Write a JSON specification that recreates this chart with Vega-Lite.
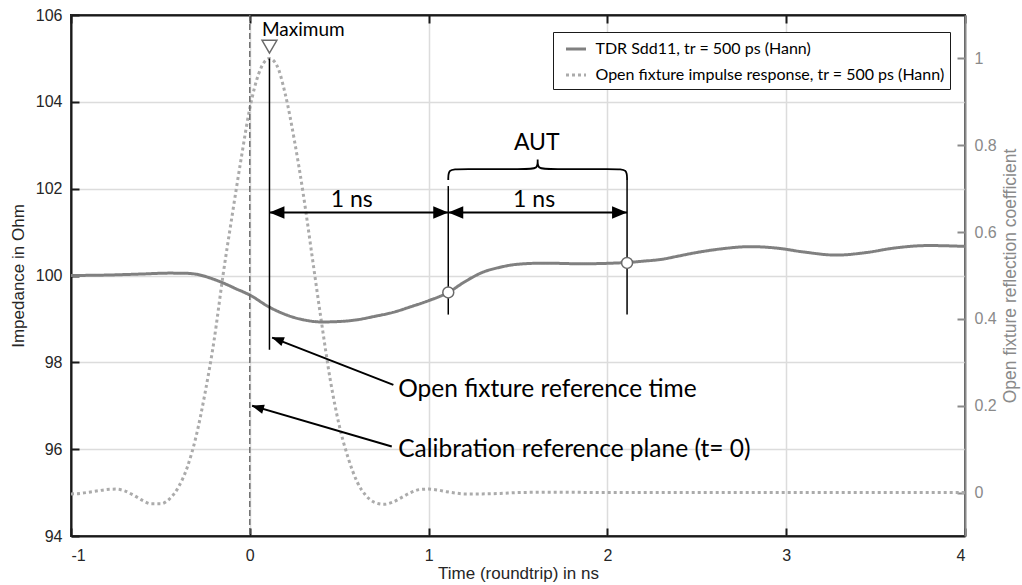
{
  "$schema": "https://vega.github.io/schema/vega-lite/v6.json",
  "width": 894,
  "height": 521,
  "autosize": {"type": "none"},
  "padding": {"left": 71, "top": 15, "right": 57, "bottom": 49},
  "background": "white",
  "config": {
    "font": "Liberation Sans",
    "view": {"stroke": "#1a1a1a", "strokeWidth": 2},
    "axis": {
      "labelFont": "Liberation Sans",
      "titleFont": "Liberation Sans",
      "titleFontWeight": "normal",
      "labelFontSize": 16,
      "titleFontSize": 17,
      "labelColor": "#262626",
      "titleColor": "#262626",
      "gridColor": "#dcdcdc",
      "gridWidth": 1.5,
      "domainColor": "#1a1a1a",
      "domainWidth": 2,
      "tickColor": "#1a1a1a",
      "tickWidth": 2,
      "tickSize": -8
    }
  },
  "datasets": {
    "tdr": [
      {"t": -1.0, "y": 100.0, "s": "TDR Sdd11, tr = 500 ps (Hann)"},
      {"t": -0.8, "y": 100.01, "s": "TDR Sdd11, tr = 500 ps (Hann)"},
      {"t": -0.6, "y": 100.035, "s": "TDR Sdd11, tr = 500 ps (Hann)"},
      {"t": -0.45, "y": 100.055, "s": "TDR Sdd11, tr = 500 ps (Hann)"},
      {"t": -0.35, "y": 100.05, "s": "TDR Sdd11, tr = 500 ps (Hann)"},
      {"t": -0.3, "y": 100.03, "s": "TDR Sdd11, tr = 500 ps (Hann)"},
      {"t": -0.22, "y": 99.94, "s": "TDR Sdd11, tr = 500 ps (Hann)"},
      {"t": -0.15, "y": 99.83, "s": "TDR Sdd11, tr = 500 ps (Hann)"},
      {"t": -0.08, "y": 99.7, "s": "TDR Sdd11, tr = 500 ps (Hann)"},
      {"t": 0.0, "y": 99.55, "s": "TDR Sdd11, tr = 500 ps (Hann)"},
      {"t": 0.11, "y": 99.27, "s": "TDR Sdd11, tr = 500 ps (Hann)"},
      {"t": 0.2, "y": 99.1, "s": "TDR Sdd11, tr = 500 ps (Hann)"},
      {"t": 0.25, "y": 99.03, "s": "TDR Sdd11, tr = 500 ps (Hann)"},
      {"t": 0.3, "y": 98.98, "s": "TDR Sdd11, tr = 500 ps (Hann)"},
      {"t": 0.4, "y": 98.93, "s": "TDR Sdd11, tr = 500 ps (Hann)"},
      {"t": 0.5, "y": 98.94, "s": "TDR Sdd11, tr = 500 ps (Hann)"},
      {"t": 0.6, "y": 98.98, "s": "TDR Sdd11, tr = 500 ps (Hann)"},
      {"t": 0.7, "y": 99.06, "s": "TDR Sdd11, tr = 500 ps (Hann)"},
      {"t": 0.8, "y": 99.15, "s": "TDR Sdd11, tr = 500 ps (Hann)"},
      {"t": 0.9, "y": 99.28, "s": "TDR Sdd11, tr = 500 ps (Hann)"},
      {"t": 1.0, "y": 99.42, "s": "TDR Sdd11, tr = 500 ps (Hann)"},
      {"t": 1.11, "y": 99.61, "s": "TDR Sdd11, tr = 500 ps (Hann)"},
      {"t": 1.2, "y": 99.85, "s": "TDR Sdd11, tr = 500 ps (Hann)"},
      {"t": 1.3, "y": 100.07, "s": "TDR Sdd11, tr = 500 ps (Hann)"},
      {"t": 1.4, "y": 100.19, "s": "TDR Sdd11, tr = 500 ps (Hann)"},
      {"t": 1.5, "y": 100.26, "s": "TDR Sdd11, tr = 500 ps (Hann)"},
      {"t": 1.65, "y": 100.285, "s": "TDR Sdd11, tr = 500 ps (Hann)"},
      {"t": 1.85, "y": 100.27, "s": "TDR Sdd11, tr = 500 ps (Hann)"},
      {"t": 2.0, "y": 100.28, "s": "TDR Sdd11, tr = 500 ps (Hann)"},
      {"t": 2.11, "y": 100.3, "s": "TDR Sdd11, tr = 500 ps (Hann)"},
      {"t": 2.2, "y": 100.33, "s": "TDR Sdd11, tr = 500 ps (Hann)"},
      {"t": 2.3, "y": 100.37, "s": "TDR Sdd11, tr = 500 ps (Hann)"},
      {"t": 2.4, "y": 100.45, "s": "TDR Sdd11, tr = 500 ps (Hann)"},
      {"t": 2.5, "y": 100.53, "s": "TDR Sdd11, tr = 500 ps (Hann)"},
      {"t": 2.65, "y": 100.62, "s": "TDR Sdd11, tr = 500 ps (Hann)"},
      {"t": 2.8, "y": 100.665, "s": "TDR Sdd11, tr = 500 ps (Hann)"},
      {"t": 2.95, "y": 100.63, "s": "TDR Sdd11, tr = 500 ps (Hann)"},
      {"t": 3.1, "y": 100.54, "s": "TDR Sdd11, tr = 500 ps (Hann)"},
      {"t": 3.28, "y": 100.47, "s": "TDR Sdd11, tr = 500 ps (Hann)"},
      {"t": 3.45, "y": 100.53, "s": "TDR Sdd11, tr = 500 ps (Hann)"},
      {"t": 3.6, "y": 100.63, "s": "TDR Sdd11, tr = 500 ps (Hann)"},
      {"t": 3.8, "y": 100.69, "s": "TDR Sdd11, tr = 500 ps (Hann)"},
      {"t": 4.0, "y": 100.67, "s": "TDR Sdd11, tr = 500 ps (Hann)"}
    ],
    "imp": [
      {"t": -1.0, "v": -0.003, "s": "Open fixture impulse response, tr = 500 ps (Hann)"},
      {"t": -0.95, "v": -0.002, "s": "Open fixture impulse response, tr = 500 ps (Hann)"},
      {"t": -0.9, "v": 0.001, "s": "Open fixture impulse response, tr = 500 ps (Hann)"},
      {"t": -0.85, "v": 0.004, "s": "Open fixture impulse response, tr = 500 ps (Hann)"},
      {"t": -0.8, "v": 0.007, "s": "Open fixture impulse response, tr = 500 ps (Hann)"},
      {"t": -0.75, "v": 0.008, "s": "Open fixture impulse response, tr = 500 ps (Hann)"},
      {"t": -0.7, "v": 0.004, "s": "Open fixture impulse response, tr = 500 ps (Hann)"},
      {"t": -0.65, "v": -0.006, "s": "Open fixture impulse response, tr = 500 ps (Hann)"},
      {"t": -0.6, "v": -0.018, "s": "Open fixture impulse response, tr = 500 ps (Hann)"},
      {"t": -0.55, "v": -0.026, "s": "Open fixture impulse response, tr = 500 ps (Hann)"},
      {"t": -0.5, "v": -0.026, "s": "Open fixture impulse response, tr = 500 ps (Hann)"},
      {"t": -0.45, "v": -0.015, "s": "Open fixture impulse response, tr = 500 ps (Hann)"},
      {"t": -0.4, "v": 0.012, "s": "Open fixture impulse response, tr = 500 ps (Hann)"},
      {"t": -0.35, "v": 0.058, "s": "Open fixture impulse response, tr = 500 ps (Hann)"},
      {"t": -0.3, "v": 0.13, "s": "Open fixture impulse response, tr = 500 ps (Hann)"},
      {"t": -0.25, "v": 0.23, "s": "Open fixture impulse response, tr = 500 ps (Hann)"},
      {"t": -0.2, "v": 0.35, "s": "Open fixture impulse response, tr = 500 ps (Hann)"},
      {"t": -0.15, "v": 0.5, "s": "Open fixture impulse response, tr = 500 ps (Hann)"},
      {"t": -0.1, "v": 0.635, "s": "Open fixture impulse response, tr = 500 ps (Hann)"},
      {"t": -0.05, "v": 0.765, "s": "Open fixture impulse response, tr = 500 ps (Hann)"},
      {"t": 0.0, "v": 0.885, "s": "Open fixture impulse response, tr = 500 ps (Hann)"},
      {"t": 0.05, "v": 0.965, "s": "Open fixture impulse response, tr = 500 ps (Hann)"},
      {"t": 0.11, "v": 1.0, "s": "Open fixture impulse response, tr = 500 ps (Hann)"},
      {"t": 0.15, "v": 0.985, "s": "Open fixture impulse response, tr = 500 ps (Hann)"},
      {"t": 0.2, "v": 0.915, "s": "Open fixture impulse response, tr = 500 ps (Hann)"},
      {"t": 0.25, "v": 0.81, "s": "Open fixture impulse response, tr = 500 ps (Hann)"},
      {"t": 0.3, "v": 0.685, "s": "Open fixture impulse response, tr = 500 ps (Hann)"},
      {"t": 0.35, "v": 0.54, "s": "Open fixture impulse response, tr = 500 ps (Hann)"},
      {"t": 0.4, "v": 0.395, "s": "Open fixture impulse response, tr = 500 ps (Hann)"},
      {"t": 0.45, "v": 0.26, "s": "Open fixture impulse response, tr = 500 ps (Hann)"},
      {"t": 0.5, "v": 0.155, "s": "Open fixture impulse response, tr = 500 ps (Hann)"},
      {"t": 0.55, "v": 0.08, "s": "Open fixture impulse response, tr = 500 ps (Hann)"},
      {"t": 0.6, "v": 0.025, "s": "Open fixture impulse response, tr = 500 ps (Hann)"},
      {"t": 0.65, "v": -0.007, "s": "Open fixture impulse response, tr = 500 ps (Hann)"},
      {"t": 0.7, "v": -0.023, "s": "Open fixture impulse response, tr = 500 ps (Hann)"},
      {"t": 0.75, "v": -0.027, "s": "Open fixture impulse response, tr = 500 ps (Hann)"},
      {"t": 0.8, "v": -0.022, "s": "Open fixture impulse response, tr = 500 ps (Hann)"},
      {"t": 0.85, "v": -0.011, "s": "Open fixture impulse response, tr = 500 ps (Hann)"},
      {"t": 0.9, "v": 0.0, "s": "Open fixture impulse response, tr = 500 ps (Hann)"},
      {"t": 0.95, "v": 0.007, "s": "Open fixture impulse response, tr = 500 ps (Hann)"},
      {"t": 1.0, "v": 0.008, "s": "Open fixture impulse response, tr = 500 ps (Hann)"},
      {"t": 1.05, "v": 0.006, "s": "Open fixture impulse response, tr = 500 ps (Hann)"},
      {"t": 1.1, "v": 0.002, "s": "Open fixture impulse response, tr = 500 ps (Hann)"},
      {"t": 1.15, "v": -0.001, "s": "Open fixture impulse response, tr = 500 ps (Hann)"},
      {"t": 1.2, "v": -0.003, "s": "Open fixture impulse response, tr = 500 ps (Hann)"},
      {"t": 1.3, "v": -0.003, "s": "Open fixture impulse response, tr = 500 ps (Hann)"},
      {"t": 1.4, "v": -0.002, "s": "Open fixture impulse response, tr = 500 ps (Hann)"},
      {"t": 1.5, "v": 0.0, "s": "Open fixture impulse response, tr = 500 ps (Hann)"},
      {"t": 1.7, "v": 0.001, "s": "Open fixture impulse response, tr = 500 ps (Hann)"},
      {"t": 2.0, "v": 0.0, "s": "Open fixture impulse response, tr = 500 ps (Hann)"},
      {"t": 2.5, "v": 0.0, "s": "Open fixture impulse response, tr = 500 ps (Hann)"},
      {"t": 3.0, "v": 0.0, "s": "Open fixture impulse response, tr = 500 ps (Hann)"},
      {"t": 3.5, "v": 0.0, "s": "Open fixture impulse response, tr = 500 ps (Hann)"},
      {"t": 4.0, "v": 0.0, "s": "Open fixture impulse response, tr = 500 ps (Hann)"}
    ],
    "zero": [{"t": 0}],
    "vrules": [
      {"t": 0.11, "y": 98.29, "y2": 105.0},
      {"t": 1.11, "y": 99.1, "y2": 102.06},
      {"t": 2.11, "y": 99.1, "y2": 102.2}
    ],
    "hrules": [
      {"t": 0.11, "t2": 1.11, "y": 101.45},
      {"t": 1.11, "t2": 2.11, "y": 101.45}
    ],
    "diag": [
      {"t": 0.803, "y": 97.48, "t2": 0.125, "y2": 98.57},
      {"t": 0.794, "y": 96.06, "t2": 0.013, "y2": 97.0}
    ],
    "headsLeft": [{"t": 0.11, "y": 101.45}, {"t": 1.11, "y": 101.45}],
    "headsRight": [{"t": 1.11, "y": 101.45}, {"t": 2.11, "y": 101.45}],
    "head1": [{"t": 0.1225, "y": 98.58}],
    "head2": [{"t": 0.0106, "y": 97.0}],
    "brace": [
      {"i": 0, "t": 1.11, "y": 102.2},
      {"i": 1, "t": 1.11, "y": 102.45},
      {"i": 2, "t": 1.17, "y": 102.45},
      {"i": 3, "t": 1.55, "y": 102.45},
      {"i": 4, "t": 1.61, "y": 102.45},
      {"i": 5, "t": 1.61, "y": 102.67},
      {"i": 6, "t": 1.61, "y": 102.67},
      {"i": 7, "t": 1.61, "y": 102.67},
      {"i": 8, "t": 1.61, "y": 102.45},
      {"i": 9, "t": 1.67, "y": 102.45},
      {"i": 10, "t": 2.05, "y": 102.45},
      {"i": 11, "t": 2.11, "y": 102.45},
      {"i": 12, "t": 2.11, "y": 102.2}
    ],
    "circles": [{"t": 1.11, "y": 99.61}, {"t": 2.11, "y": 100.29}],
    "tri": [{"t": 0.11, "y": 105.27}],
    "ctext": [
      {"t": 0.57, "y": 101.74, "label": "1 ns"},
      {"t": 1.59, "y": 101.74, "label": "1 ns"},
      {"t": 1.605, "y": 103.05, "label": "AUT"}
    ],
    "ltext": [
      {"t": 0.83, "y": 97.37, "label": "Open fixture reference time"},
      {"t": 0.83, "y": 95.99, "label": "Calibration reference plane (t= 0)"}
    ],
    "mtext": [{"t": 0.068, "y": 105.66, "label": "Maximum"}]
  },
  "resolve": {"scale": {"x": "independent", "y": "independent"}, "axis": {"x": "independent", "y": "independent"}},
  "layer": [
    {
      "data": {"name": "imp"},
      "mark": {"type": "line", "strokeWidth": 3, "interpolate": "monotone"},
      "encoding": {
        "x": {"field": "t", "type": "quantitative", "scale": {"domain": [-1, 4], "nice": false, "zero": false}, "axis": null},
        "y": {"field": "v", "type": "quantitative", "scale": {"domain": [-0.1, 1.1], "nice": false, "zero": false},
          "axis": {"orient": "right", "values": [0, 0.2, 0.4, 0.6, 0.8, 1], "labelExpr": "'' + datum.value", "grid": false, "title": "Open fixture reflection coefficient",
            "domainColor": "#8a8a8a", "tickColor": "#8a8a8a", "labelColor": "#8a8a8a", "titleColor": "#8a8a8a",
            "labelPadding": 17, "titlePadding": 5, "titleAngle": 270, "titleBaseline": "top", "titleFontSize": 17.5}},
        "color": {"field": "s", "type": "nominal", "scale": {"domain": ["TDR Sdd11, tr = 500 ps (Hann)", "Open fixture impulse response, tr = 500 ps (Hann)"], "range": ["#808080", "#ababab"]},
          "legend": {"title": null, "orient": "none", "legendX": 482, "legendY": 17, "fillColor": "white", "strokeColor": "#1a1a1a", "padding": 5.5,
            "labelFont": "Lato", "labelFontSize": 16, "labelColor": "#000000", "labelLimit": 0, "symbolType": "stroke", "symbolSize": 400, "symbolStrokeWidth": 3, "symbolOffset": 6, "labelOffset": 8, "rowPadding": 6}},
        "strokeDash": {"field": "s", "type": "nominal", "scale": {"domain": ["TDR Sdd11, tr = 500 ps (Hann)", "Open fixture impulse response, tr = 500 ps (Hann)"], "range": [[1, 0], [3, 3]]},
          "legend": {"title": null, "orient": "none", "legendX": 482, "legendY": 17}}
      }
    },
    {
      "data": {"name": "tdr"},
      "mark": {"type": "line", "strokeWidth": 3, "interpolate": "monotone"},
      "encoding": {
        "x": {"field": "t", "type": "quantitative", "scale": {"domain": [-1, 4], "nice": false, "zero": false},
          "axis": {"orient": "bottom", "values": [-1, 0, 1, 2, 3, 4], "labelExpr": "'' + datum.value", "grid": true, "title": "Time (roundtrip) in ns", "labelPadding": 19, "titlePadding": 2}},
        "y": {"field": "y", "type": "quantitative", "scale": {"domain": [94, 106], "nice": false, "zero": false},
          "axis": {"orient": "left", "values": [94, 96, 98, 100, 102, 104, 106], "grid": true, "title": "Impedance in Ohm", "labelPadding": 17, "titlePadding": 8}},
        "color": {"field": "s", "type": "nominal"},
        "strokeDash": {"field": "s", "type": "nominal"}
      }
    },
    {
      "data": {"name": "zero"},
      "mark": {"type": "rule", "color": "#6e6e6e", "strokeWidth": 1.5, "strokeDash": [6, 3]},
      "encoding": {
        "x": {"field": "t", "type": "quantitative", "scale": {"domain": [-1, 4], "nice": false, "zero": false},
          "axis": {"orient": "top", "values": [-1, 0, 1, 2, 3, 4], "labels": false, "grid": false, "title": null}}
      }
    },
    {
      "data": {"name": "vrules"},
      "mark": {"type": "rule", "color": "#000000", "strokeWidth": 1.5},
      "encoding": {
        "x": {"field": "t", "type": "quantitative", "scale": {"domain": [-1, 4], "nice": false, "zero": false}, "axis": null},
        "y": {"field": "y", "type": "quantitative", "scale": {"domain": [94, 106], "nice": false, "zero": false}, "axis": null},
        "y2": {"field": "y2"}
      }
    },
    {
      "data": {"name": "hrules"},
      "mark": {"type": "rule", "color": "#000000", "strokeWidth": 2},
      "encoding": {
        "x": {"field": "t", "type": "quantitative", "scale": {"domain": [-1, 4], "nice": false, "zero": false}, "axis": null},
        "x2": {"field": "t2"},
        "y": {"field": "y", "type": "quantitative", "scale": {"domain": [94, 106], "nice": false, "zero": false}, "axis": null}
      }
    },
    {
      "data": {"name": "diag"},
      "mark": {"type": "rule", "color": "#000000", "strokeWidth": 2},
      "encoding": {
        "x": {"field": "t", "type": "quantitative", "scale": {"domain": [-1, 4], "nice": false, "zero": false}, "axis": null},
        "x2": {"field": "t2"},
        "y": {"field": "y", "type": "quantitative", "scale": {"domain": [94, 106], "nice": false, "zero": false}, "axis": null},
        "y2": {"field": "y2"}
      }
    },
    {
      "data": {"name": "headsLeft"},
      "mark": {"type": "point", "shape": "M0,0L1,-0.42L1,0.42Z", "filled": true, "color": "#000000", "size": 900, "opacity": 1},
      "encoding": {
        "x": {"field": "t", "type": "quantitative", "scale": {"domain": [-1, 4], "nice": false, "zero": false}, "axis": null},
        "y": {"field": "y", "type": "quantitative", "scale": {"domain": [94, 106], "nice": false, "zero": false}, "axis": null}
      }
    },
    {
      "data": {"name": "headsRight"},
      "mark": {"type": "point", "shape": "M0,0L-1,-0.42L-1,0.42Z", "filled": true, "color": "#000000", "size": 900, "opacity": 1},
      "encoding": {
        "x": {"field": "t", "type": "quantitative", "scale": {"domain": [-1, 4], "nice": false, "zero": false}, "axis": null},
        "y": {"field": "y", "type": "quantitative", "scale": {"domain": [94, 106], "nice": false, "zero": false}, "axis": null}
      }
    },
    {
      "data": {"name": "head1"},
      "mark": {"type": "point", "shape": "M0,0L1,-0.38L1,0.38Z", "filled": true, "color": "#000000", "size": 600, "opacity": 1, "angle": 21.4},
      "encoding": {
        "x": {"field": "t", "type": "quantitative", "scale": {"domain": [-1, 4], "nice": false, "zero": false}, "axis": null},
        "y": {"field": "y", "type": "quantitative", "scale": {"domain": [94, 106], "nice": false, "zero": false}, "axis": null}
      }
    },
    {
      "data": {"name": "head2"},
      "mark": {"type": "point", "shape": "M0,0L1,-0.38L1,0.38Z", "filled": true, "color": "#000000", "size": 600, "opacity": 1, "angle": 16.2},
      "encoding": {
        "x": {"field": "t", "type": "quantitative", "scale": {"domain": [-1, 4], "nice": false, "zero": false}, "axis": null},
        "y": {"field": "y", "type": "quantitative", "scale": {"domain": [94, 106], "nice": false, "zero": false}, "axis": null}
      }
    },
    {
      "data": {"name": "brace"},
      "mark": {"type": "line", "color": "#000000", "strokeWidth": 1.8, "interpolate": "basis"},
      "encoding": {
        "x": {"field": "t", "type": "quantitative", "scale": {"domain": [-1, 4], "nice": false, "zero": false}, "axis": null},
        "y": {"field": "y", "type": "quantitative", "scale": {"domain": [94, 106], "nice": false, "zero": false}, "axis": null},
        "order": {"field": "i", "type": "quantitative"}
      }
    },
    {
      "data": {"name": "circles"},
      "mark": {"type": "point", "shape": "circle", "filled": false, "fill": "white", "fillOpacity": 1, "stroke": "#6a6a6a", "strokeWidth": 1.5, "size": 120, "opacity": 1},
      "encoding": {
        "x": {"field": "t", "type": "quantitative", "scale": {"domain": [-1, 4], "nice": false, "zero": false}, "axis": null},
        "y": {"field": "y", "type": "quantitative", "scale": {"domain": [94, 106], "nice": false, "zero": false}, "axis": null}
      }
    },
    {
      "data": {"name": "tri"},
      "mark": {"type": "point", "shape": "triangle-down", "filled": false, "fill": "white", "fillOpacity": 1, "stroke": "#6a6a6a", "strokeWidth": 1.5, "size": 220, "opacity": 1},
      "encoding": {
        "x": {"field": "t", "type": "quantitative", "scale": {"domain": [-1, 4], "nice": false, "zero": false}, "axis": null},
        "y": {"field": "y", "type": "quantitative", "scale": {"domain": [94, 106], "nice": false, "zero": false}, "axis": null}
      }
    },
    {
      "data": {"name": "ctext"},
      "mark": {"type": "text", "font": "Lato", "fontSize": 23, "color": "#000000", "align": "center", "baseline": "middle"},
      "encoding": {
        "x": {"field": "t", "type": "quantitative", "scale": {"domain": [-1, 4], "nice": false, "zero": false}, "axis": null},
        "y": {"field": "y", "type": "quantitative", "scale": {"domain": [94, 106], "nice": false, "zero": false}, "axis": null},
        "text": {"field": "label"}
      }
    },
    {
      "data": {"name": "ltext"},
      "mark": {"type": "text", "font": "Lato", "fontSize": 24.5, "color": "#000000", "align": "left", "baseline": "middle"},
      "encoding": {
        "x": {"field": "t", "type": "quantitative", "scale": {"domain": [-1, 4], "nice": false, "zero": false}, "axis": null},
        "y": {"field": "y", "type": "quantitative", "scale": {"domain": [94, 106], "nice": false, "zero": false}, "axis": null},
        "text": {"field": "label"}
      }
    },
    {
      "data": {"name": "mtext"},
      "mark": {"type": "text", "font": "Lato", "fontSize": 19, "color": "#000000", "align": "left", "baseline": "middle"},
      "encoding": {
        "x": {"field": "t", "type": "quantitative", "scale": {"domain": [-1, 4], "nice": false, "zero": false}, "axis": null},
        "y": {"field": "y", "type": "quantitative", "scale": {"domain": [94, 106], "nice": false, "zero": false}, "axis": null},
        "text": {"field": "label"}
      }
    }
  ]
}
